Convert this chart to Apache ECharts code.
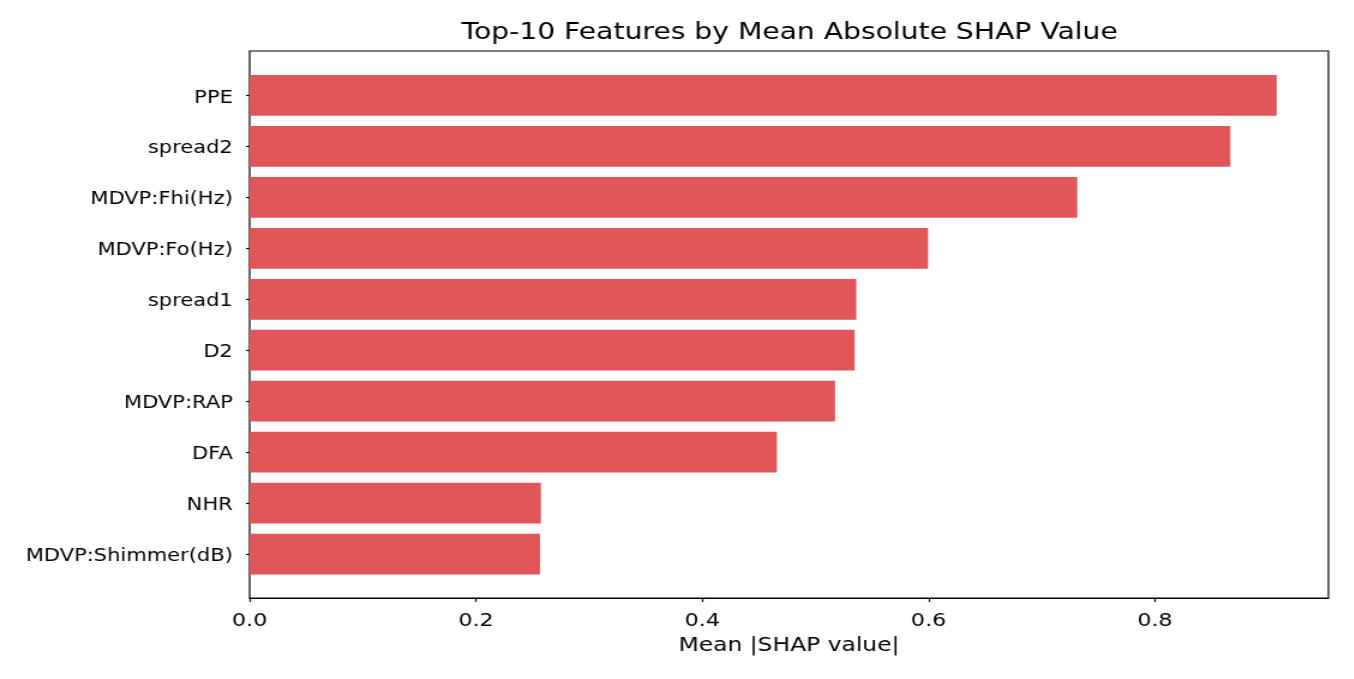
<!DOCTYPE html>
<html>
<head>
<meta charset="utf-8">
<script src="https://cdn.jsdelivr.net/npm/echarts@6/dist/echarts.min.js"></script>
<style>
	html, body { margin: 0; padding: 0; background: #fff; overflow: hidden; }
	/* the reference is stretched sideways, so draw narrower and widen it */
	#main { width: 1128px; height: 679px; transform: scaleX(1.2); transform-origin: 0 0; }
</style>
</head>
<body>
<div id="main"></div>
<script>
// 特征名称（从上到下）
var features = ['PPE', 'spread2', 'MDVP:Fhi(Hz)', 'MDVP:Fo(Hz)', 'spread1',
	'D2', 'MDVP:RAP', 'DFA', 'NHR', 'MDVP:Shimmer(dB)'];
// 平均 |SHAP| 值
var meanShap = [0.9076, 0.8666, 0.7314, 0.5995, 0.5361, 0.5347, 0.5173, 0.4660, 0.2574, 0.2566];
var xTicks = [0, 0.2, 0.4, 0.6, 0.8];
var xMax = 0.9533;

var font = 'DejaVu Sans';
var chart = echarts.init(document.getElementById('main'));
var option = {
	animation: false,
	title: {
		text: 'Top-10 Features by Mean Absolute SHAP Value',
		left: 653,
		top: 16,
		textAlign: 'center',
		textStyle: { fontFamily: font, fontSize: 23.5, fontWeight: 'normal', color: '#000' }
	},
	grid: [
		// 外框 + x 轴
		{ left: 208, right: 21, top: 51, bottom: 81, show: true, borderColor: '#000', borderWidth: 1.2, backgroundColor: 'transparent' },
		// 条形区域
		{ left: 208, right: 21, top: 70, bottom: 99.5 }
	],
	xAxis: [
		{
			gridIndex: 0,
			type: 'value',
			min: 0,
			max: xMax,
			interval: 0.2,
			name: 'Mean |SHAP value|',
			nameLocation: 'middle',
			nameGap: 37,
			nameTextStyle: { fontFamily: font, fontSize: 19.5, color: '#000' },
			axisLine: { show: true, lineStyle: { color: '#000', width: 1.2 } },
			axisTick: { show: true, length: 4, lineStyle: { color: '#000', width: 1.2 } },
			axisLabel: {
				margin: 14,
				fontFamily: font, fontSize: 18.5, color: '#000',
				showMaxLabel: false,
				formatter: function (v) {
					return xTicks.indexOf(Math.round(v * 10) / 10) >= 0 ? v.toFixed(1) : '';
				}
			},
			splitLine: { show: false }
		},
		{
			gridIndex: 1,
			type: 'value',
			min: 0,
			max: xMax,
			show: false,
			splitLine: { show: false }
		}
	],
	yAxis: [
		{
			gridIndex: 0,
			type: 'value',
			show: false,
			splitLine: { show: false }
		},
		{
			gridIndex: 1,
			type: 'category',
			inverse: true,
			data: features,
			axisLine: { show: false },
			axisTick: { show: true, alignWithLabel: true, length: 3, lineStyle: { color: '#000', width: 1.2 } },
			axisLabel: {
				margin: 14,
				formatter: function (v) { return '{n|' + v + '}'; },
				rich: {
					n: { fontFamily: font, fontSize: 17.5, color: '#000', padding: [5, 0, 0, 0] }
				}
			}
		}
	],
	series: [
		{
			name: 'Mean |SHAP value|',
			type: 'bar',
			xAxisIndex: 1,
			yAxisIndex: 1,
			barWidth: '80%',
			itemStyle: { color: '#e15759' },
			data: meanShap
		}
	]
};
chart.setOption(option);
</script>
</body>
</html>
